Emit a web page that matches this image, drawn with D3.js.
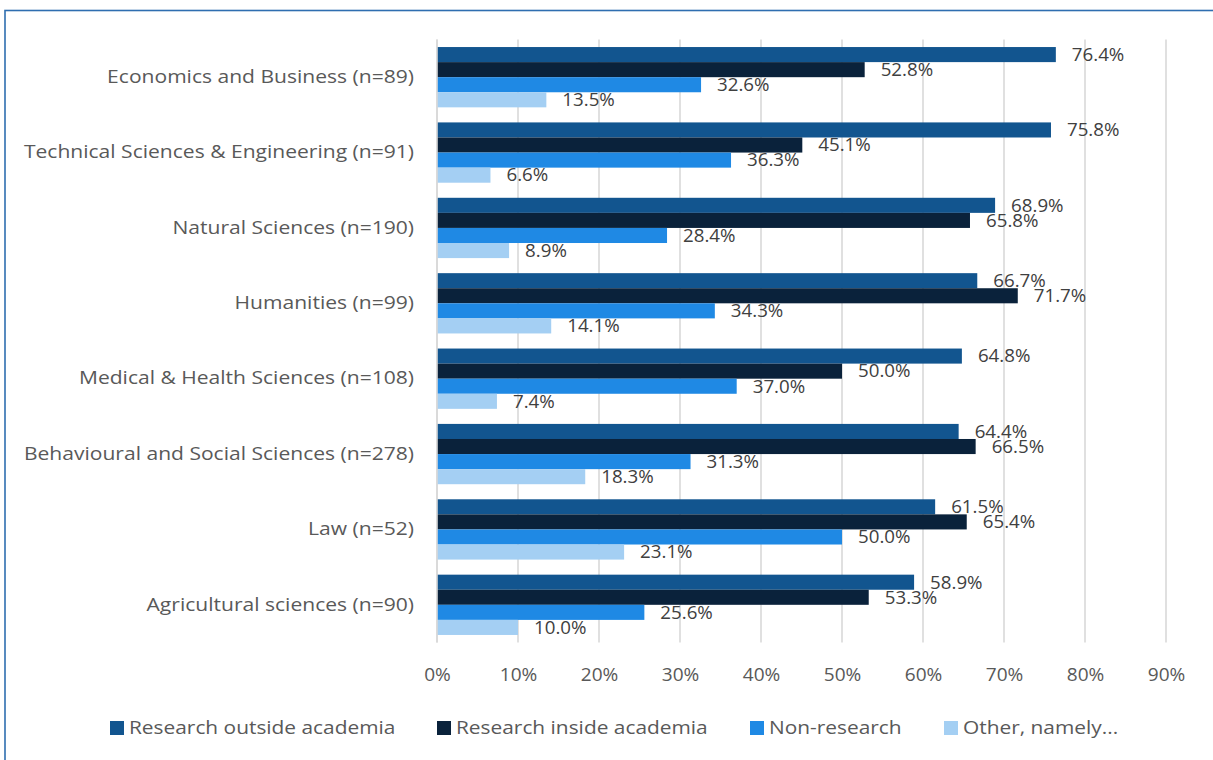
<!DOCTYPE html>
<html>
<head>
<meta charset="utf-8">
<script src="https://cdn.jsdelivr.net/npm/d3@7"></script>
<style>
  html, body { margin: 0; padding: 0; background: #ffffff; }
  svg { display: block; }
</style>
</head>
<body>
<svg id="chart" width="1213" height="760"></svg>
<script>
// Fields of study, top to bottom
const categories = [
  "Economics and Business (n=89)",
  "Technical Sciences & Engineering (n=91)",
  "Natural Sciences (n=190)",
  "Humanities (n=99)",
  "Medical & Health Sciences (n=108)",
  "Behavioural and Social Sciences (n=278)",
  "Law (n=52)",
  "Agricultural sciences (n=90)"
];

const seriesNames = [
  "Research outside academia",
  "Research inside academia",
  "Non-research",
  "Other, namely..."
];

// Percentages per series, in category order
const researchOutside = [76.4, 75.8, 68.9, 66.7, 64.8, 64.4, 61.5, 58.9];
const researchInside  = [52.8, 45.1, 65.8, 71.7, 50.0, 66.5, 65.4, 53.3];
const nonResearch     = [32.6, 36.3, 28.4, 34.3, 37.0, 31.3, 50.0, 25.6];
const otherNamely     = [13.5,  6.6,  8.9, 14.1,  7.4, 18.3, 23.1, 10.0];

const xTicks = [0, 10, 20, 30, 40, 50, 60, 70, 80, 90];

const seriesValues = [researchOutside, researchInside, nonResearch, otherNamely];
const colors = ["#12558f", "#0a223b", "#1f89e4", "#a4cff3"];

const svg = d3.select("#chart");
const font = "'Open Sans', sans-serif";
const fontSize = 18;

// Widen text horizontally around its own anchor x
function widen(sel, sx) {
  sel.each(function() {
    const t = d3.select(this);
    const ax = +t.attr("x") || 0;
    t.attr("transform", `matrix(${sx},0,0,1,${(1 - sx) * ax},0)`);
  });
}

// Outer frame
svg.append("rect")
  .attr("x", 5).attr("y", 10.5)
  .attr("width", 1240).attr("height", 800)
  .attr("fill", "none")
  .attr("stroke", "#2f6eb0")
  .attr("stroke-width", 1.6);

const plot = { left: 437, right: 1166, top: 39.5, bottom: 642.5 };

const x = d3.scaleLinear().domain([0, 90]).range([plot.left, plot.right]);
const y = d3.scaleBand().domain(categories).range([plot.top, plot.bottom]).paddingInner(0.2).paddingOuter(0.1);
const ySub = d3.scaleBand().domain(d3.range(seriesNames.length)).range([0, y.bandwidth()]);

// Vertical gridlines
svg.append("g")
  .selectAll("line")
  .data(xTicks)
  .join("line")
  .attr("x1", d => x(d)).attr("x2", d => x(d))
  .attr("y1", plot.top).attr("y2", plot.bottom)
  .attr("stroke", "#d9d9d9")
  .attr("stroke-width", 1.6);

// X axis tick labels
const xAxis = d3.axisBottom(x).tickValues(xTicks).tickFormat(d => d + "%").tickSize(0).tickPadding(0);
const gx = svg.append("g")
  .attr("transform", `translate(0,${plot.bottom + 24})`)
  .call(xAxis);
gx.select(".domain").remove();
gx.selectAll("text")
  .attr("font-family", font)
  .attr("font-size", fontSize)
  .attr("fill", "#595959")
  .attr("dy", "0.32em")
  .attr("y", 9)
  .call(widen, 1.06);

// Category labels
const yAxis = d3.axisLeft(y).tickSize(0).tickPadding(23);
const gy = svg.append("g")
  .attr("transform", `translate(${plot.left},0)`)
  .call(yAxis);
gy.select(".domain").remove();
gy.selectAll("text")
  .attr("font-family", font)
  .attr("font-size", fontSize)
  .attr("fill", "#595959")
  .call(widen, 1.17);

// Bars
const groups = svg.append("g")
  .selectAll("g")
  .data(categories)
  .join("g")
  .attr("transform", d => `translate(0,${y(d)})`);

groups.each(function(cat, ci) {
  const g = d3.select(this);
  seriesValues.forEach((vals, si) => {
    const v = vals[ci];
    g.append("rect")
      .attr("x", x(0))
      .attr("y", ySub(si))
      .attr("width", x(v) - x(0))
      .attr("height", ySub.bandwidth())
      .attr("fill", colors[si]);
    g.append("text")
      .attr("x", x(v) + 16)
      .attr("y", ySub(si) + ySub.bandwidth() / 2)
      .attr("dy", "0.35em")
      .attr("font-family", font)
      .attr("font-size", fontSize)
      .attr("fill", "#404040")
      .text(v.toFixed(1) + "%")
      .call(widen, 1.04);
  });
});

// Left axis line
svg.append("line")
  .attr("x1", x(0)).attr("x2", x(0))
  .attr("y1", plot.top).attr("y2", plot.bottom)
  .attr("stroke", "#d9d9d9")
  .attr("stroke-width", 1.6);

// Legend
const legendX = [110, 437, 750, 944];
const legend = svg.append("g")
  .selectAll("g")
  .data(seriesNames)
  .join("g")
  .attr("transform", (d, i) => `translate(${legendX[i]},721)`);
legend.append("rect")
  .attr("width", 14).attr("height", 14)
  .attr("fill", (d, i) => colors[i]);
legend.append("text")
  .attr("x", 19).attr("y", 7)
  .attr("dy", "0.35em")
  .attr("font-family", font)
  .attr("font-size", fontSize)
  .attr("fill", "#595959")
  .text(d => d)
  .call(widen, 1.16);
</script>
</body>
</html>
